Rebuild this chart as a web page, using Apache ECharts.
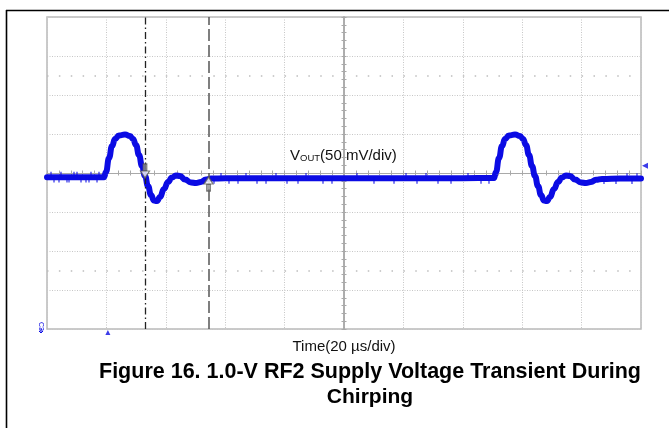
<!DOCTYPE html>
<html><head><meta charset="utf-8">
<script src="https://cdn.jsdelivr.net/npm/echarts@6/dist/echarts.min.js"></script>
<style>html,body{margin:0;padding:0;background:#fff}#c{width:669px;height:428px}</style>
</head><body><div id="c"></div>
<script>
// Time in µs relative to screen centre (20 µs/div), VOUT deviation in mV (50 mV/div)
const timeUs = [-100, -90, -80.81, -80.13, -79.12, -78.11, -77.10, -75.76, -73.74, -72.05, -71.04, -70.03, -69.02, -68.01, -67.00, -65.99, -64.98, -63.97, -62.96, -61.95, -60.61, -59.26, -57.91, -56.57, -55.22, -53.54, -51.52, -49.83, -48.15, -46.46, -44.78, -40, -20, 0, 20, 40, 50.51, 51.18, 52.19, 53.20, 54.21, 55.56, 57.58, 59.26, 60.27, 61.28, 62.29, 63.30, 64.31, 65.32, 66.33, 67.34, 68.35, 69.36, 70.71, 72.05, 73.40, 74.75, 76.09, 77.78, 79.80, 81.48, 83.16, 84.85, 86.87, 93, 100];
const voutMv = [-5.3, -5.3, -5.5, 1.3, 19.2, 34.6, 43.6, 48.1, 49.4, 47.4, 43.6, 35.9, 23.1, 9.0, -3.8, -16.7, -28.2, -35.3, -35.9, -30.8, -20.5, -11.5, -5.8, -3.2, -3.8, -8.3, -12.2, -12.8, -11.5, -8.3, -7.1, -6.8, -6.8, -6.8, -6.8, -6.6, -6.4, 1.3, 19.2, 34.6, 43.6, 48.1, 49.4, 47.4, 43.6, 35.9, 23.1, 9.0, -3.8, -16.7, -28.2, -35.3, -35.9, -30.8, -20.5, -11.5, -5.8, -3.2, -3.8, -8.3, -12.2, -12.8, -11.5, -8.8, -7.7, -7.2, -7.0];
const spikeTimeUs = [-98.65, -97.64, -95.96, -95.29, -93.27, -92.59, -90.91, -89.90, -88.55, -86.87, -85.86, -85.19, -83.16, -82.49, -43.77, -41.41, -38.72, -35.69, -33.00, -29.29, -26.26, -22.90, -19.19, -15.49, -12.79, -7.07, -4.04, 4.38, 10.10, 16.84, 20.88, 24.58, 27.61, 31.65, 36.03, 41.75, 46.13, 48.82, 87.54, 91.58, 95.29, 96.97, 98.65];
const spikeMv = [-2.3, -8.3, -8.3, -2.3, -8.3, -8.3, -2.3, -2.3, -8.3, -8.3, -8.3, -2.3, -8.3, -2.3, -9.8, -3.8, -9.8, -9.8, -3.8, -9.8, -9.8, -3.8, -9.8, -9.8, -3.8, -9.8, -9.8, -3.8, -9.8, -9.8, -3.8, -9.8, -3.8, -9.8, -9.8, -3.8, -9.8, -9.8, -10.2, -10.2, -4.2, -10.2, -4.2];
const cursorTimeUs = [-67.0, -45.6];
const cursorArrowMv = [2.6, -14.1];
const triggerTimeUs = -79.5;
const refLevelMv = 9.4;
const markerLevelsMv = [125, -125];
const xRange = [-100, 100], xStep = 20;
const yRange = [-200, 200], yStep = 50;
const voutLabel = ['V', 'OUT', '(50 mV/div)'];
const timeLabel = 'Time(20 µs/div)';
const captionLines = ['Figure 16. 1.0-V RF2 Supply Voltage Transient During', 'Chirping'];

const BLUE = '#0b0be4';
const FONT = 'Liberation Sans, Arial, sans-serif';
const traceData = timeUs.map((t, i) => [t, voutMv[i]]);
const spikeData = spikeTimeUs.map((t, i) => [t, spikeMv[i]]);

function xAx(pos, split) {
  return {
    type: 'value', min: xRange[0], max: xRange[1], interval: xStep, position: pos,
    axisLine: {show: true, onZero: true, onZeroAxisIndex: 0, lineStyle: {color: '#a9a9a9', width: 1}},
    axisTick: {show: true, length: 2.5, lineStyle: {color: '#a9a9a9'}},
    minorTick: {show: true, splitNumber: 5, length: 2.5, lineStyle: {color: '#a9a9a9'}},
    axisLabel: {show: false},
    splitLine: {show: split, lineStyle: {color: '#c6c6c6', width: 1, type: [1, 1.5]}}
  };
}
function yAx(pos, split) {
  return {
    type: 'value', min: yRange[0], max: yRange[1], interval: yStep, position: pos,
    axisLine: {show: true, onZero: true, onZeroAxisIndex: 0, lineStyle: {color: '#a9a9a9', width: 1.5}},
    axisTick: {show: true, length: 2.5, lineStyle: {color: '#a9a9a9'}},
    minorTick: {show: true, splitNumber: 5, length: 2.5, lineStyle: {color: '#a9a9a9'}},
    axisLabel: {show: false},
    splitLine: {show: split, lineStyle: {color: '#c6c6c6', width: 1, type: [1, 1.5]}}
  };
}

const SHAFT = {color: '#8c8c8c', borderColor: '#5a5a5a', borderWidth: 1};
const HEAD = {color: '#ffffff', borderColor: '#5a5a5a', borderWidth: 1.2};

const chart = echarts.init(document.getElementById('c'), null, {renderer: 'canvas'});
chart.setOption({
  animation: false,
  backgroundColor: '#fff',
  grid: {left: 47, top: 17, width: 594, height: 312, show: true, borderColor: '#b9b9b9', borderWidth: 1.5, containLabel: false},
  xAxis: [xAx('bottom', true), xAx('top', false)],
  yAxis: [yAx('left', true), yAx('right', false)],
  series: [
    {
      type: 'line', xAxisIndex: 0, yAxisIndex: 0, data: [], silent: true,
      markLine: {
        silent: true, symbol: 'none', label: {show: false}, animation: false,
        data: [
          ...markerLevelsMv.map(v => ({yAxis: v, lineStyle: {color: '#bdbdbd', width: 1.5, type: [1.5, 10.38]}})),
          {xAxis: cursorTimeUs[0], lineStyle: {color: '#222', width: 1.3, type: [7, 3, 1.5, 3]}},
          {xAxis: cursorTimeUs[1], lineStyle: {color: '#555', width: 1.5, type: [12, 4]}}
        ]
      }
    },
    {
      type: 'line', xAxisIndex: 0, yAxisIndex: 0, data: traceData, showSymbol: false, smooth: 0.5, smoothMonotone: 'x',
      lineStyle: {color: BLUE, width: 6, join: 'round', cap: 'round'}, silent: true, z: 3
    },
    {
      type: 'scatter', xAxisIndex: 0, yAxisIndex: 0, data: spikeData, symbol: 'rect', symbolSize: [1.3, 6],
      itemStyle: {color: BLUE}, silent: true, z: 4
    },
    {
      type: 'scatter', xAxisIndex: 0, yAxisIndex: 0, silent: true, z: 10, clip: false,
      data: [
        {value: [cursorTimeUs[0], cursorArrowMv[0]], symbol: 'rect', symbolSize: [4, 7], symbolOffset: [0, -3.5], itemStyle: SHAFT},
        {value: [cursorTimeUs[0], cursorArrowMv[0]], symbol: 'triangle', symbolRotate: 180, symbolSize: [9, 7], symbolOffset: [0, 3.5], itemStyle: HEAD},
        {value: [cursorTimeUs[1], cursorArrowMv[1]], symbol: 'rect', symbolSize: [4, 7], symbolOffset: [0, 3.5], itemStyle: SHAFT},
        {value: [cursorTimeUs[1], cursorArrowMv[1]], symbol: 'triangle', symbolSize: [9, 7], symbolOffset: [0, -3.5], itemStyle: HEAD},
        {value: [triggerTimeUs, yRange[0]], symbol: 'triangle', symbolSize: [5, 5], symbolOffset: [0, 3.5], itemStyle: {color: BLUE}},
        {value: [xRange[1], refLevelMv], symbol: 'triangle', symbolRotate: 90, symbolSize: [6, 6], symbolOffset: [4, 0], itemStyle: {color: BLUE}}
      ]
    }
  ],
  graphic: [
    {type: 'line', shape: {x1: 6.5, y1: 10, x2: 6.5, y2: 428}, style: {stroke: '#000', lineWidth: 1.6}, silent: true},
    {type: 'line', shape: {x1: 6, y1: 10.5, x2: 669, y2: 10.5}, style: {stroke: '#000', lineWidth: 1.6}, silent: true},
    {type: 'text', x: 41, y: 322, rotation: -Math.PI / 2, silent: true,
      style: {text: 'C3', font: '7px ' + FONT, fill: BLUE, align: 'left', verticalAlign: 'middle'}},
    {type: 'polyline', shape: {points: [[41, 328], [41, 333]]}, style: {stroke: BLUE, lineWidth: 1}, silent: true},
    {type: 'polyline', shape: {points: [[39, 331], [41, 333], [43, 331]]}, style: {stroke: BLUE, lineWidth: 1, fill: null}, silent: true},
    {type: 'text', x: 290, y: 154, silent: true,
      style: {
        text: '{a|' + voutLabel[0] + '}{s|' + voutLabel[1] + '}{a|' + voutLabel[2] + '}',
        verticalAlign: 'middle', align: 'left',
        rich: {
          a: {fontSize: 15, fontFamily: FONT, fill: '#111', lineHeight: 18, verticalAlign: 'bottom'},
          s: {fontSize: 9.5, fontFamily: FONT, fill: '#111', lineHeight: 9, verticalAlign: 'bottom'}
        }
      }},
    {type: 'text', x: 344, y: 347, silent: true,
      style: {text: timeLabel, font: '15px ' + FONT, fill: '#111', align: 'center', verticalAlign: 'middle'}},
    {type: 'text', x: 370, y: 372, silent: true,
      style: {text: captionLines[0], font: 'bold 21.5px ' + FONT, fill: '#000', align: 'center', verticalAlign: 'middle'}},
    {type: 'text', x: 370, y: 397, silent: true,
      style: {text: captionLines[1], font: 'bold 21px ' + FONT, fill: '#000', align: 'center', verticalAlign: 'middle'}}
  ]
});
</script>
</body></html>
